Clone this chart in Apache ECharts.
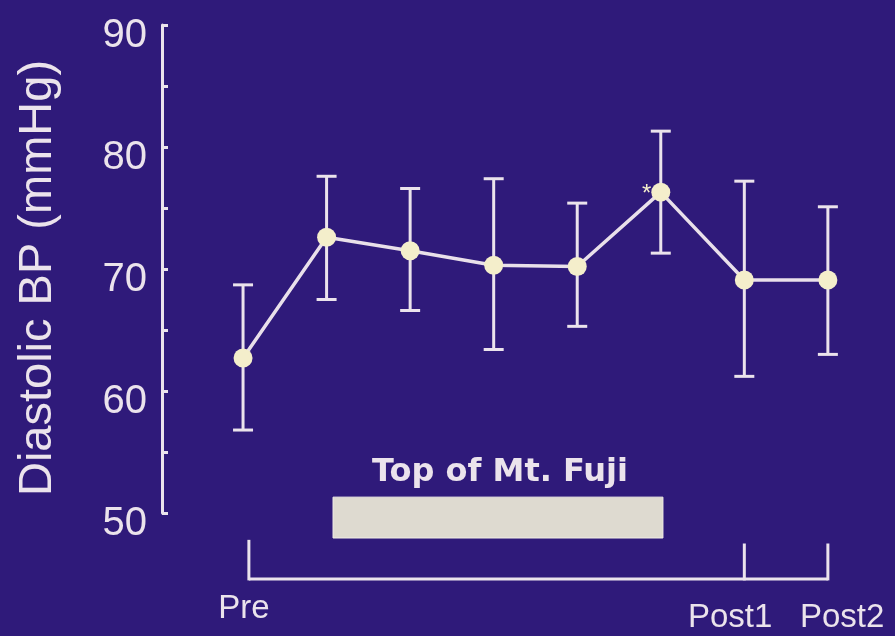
<!DOCTYPE html>
<html>
<head>
<meta charset="utf-8">
<script src="https://cdn.jsdelivr.net/npm/echarts@6/dist/echarts.min.js"></script>
<style>
html,body{margin:0;padding:0;background:#2f1a7a;}
#chart{width:895px;height:636px;}
</style>
</head>
<body>
<div id="chart"></div>
<script>
// ---- data ----
const timepoints = [0, 1, 2, 3, 4, 5, 6, 7];
const meanBP  = [62.7, 72.6, 71.5, 70.3, 70.2, 76.3, 69.1, 69.1];
const upperBP = [68.7, 77.6, 76.6, 77.4, 75.4, 81.3, 77.2, 75.1];
const lowerBP = [56.8, 67.5, 66.6, 63.4, 65.3, 71.3, 61.2, 63.0];
const yTickLabels = [50, 60, 70, 80, 90];
const phaseLabels = ['Pre', 'Post1', 'Post2'];
const phaseIndex = [0, 6, 7];
const summitStart = 1, summitEnd = 5;
const summitLabel = 'Top of Mt. Fuji';
const significant = [5];
const yTitle = 'Diastolic BP (mmHg)';

const FG = '#ebe3ec';
const CREAM = '#f4eecb';

const chart = echarts.init(document.getElementById('chart'));

chart.setOption({
  backgroundColor: '#2f1a7a',
  animation: false,
  grid: { left: 162, right: 17, top: 25, bottom: 123 },
  xAxis: {
    type: 'value', min: -0.97, max: 7.6,
    show: false
  },
  yAxis: {
    type: 'value', min: 50, max: 90, interval: 5,
    name: yTitle, nameLocation: 'middle', nameRotate: 90, nameGap: 100,
    nameTextStyle: { color: FG, fontSize: 47, fontFamily: 'Liberation Sans', padding: [0, 18, 0, 0] },
    axisLine: { show: true, onZero: false, lineStyle: { color: FG, width: 3 } },
    axisTick: { show: true, inside: true, length: 6, lineStyle: { color: FG, width: 3 } },
    axisLabel: {
      color: FG, fontSize: 40, fontFamily: 'Liberation Sans', margin: 15,
      verticalAlign: 'top', lineHeight: 22,
      formatter: v => yTickLabels.includes(v) ? String(v) : ''
    },
    splitLine: { show: false }
  },
  series: [
    {
      type: 'custom',
      name: 'annotations',
      silent: true,
      z: 1,
      data: [0],
      renderItem: (params, api) => {
        const children = [];
        // summit bar
        const r0 = api.coord([summitStart + 0.077, 51.3]);
        const r1 = api.coord([summitEnd + 0.026, 47.95]);
        children.push({ type: 'rect', shape: { x: r0[0], y: r0[1], width: r1[0] - r0[0], height: r1[1] - r0[1] },
          style: { fill: '#dedad0', stroke: '#f2eee6', lineWidth: 1 } });
        const tc = api.coord([(summitStart + summitEnd) / 2 + 0.075, 53.3]);
        children.push({ type: 'text', x: tc[0], y: tc[1], style: { text: summitLabel, fill: FG,
          font: 'bold 32px "DejaVu Sans"', align: 'center', verticalAlign: 'middle' } });
        // bracket
        const bx = phaseIndex.map((p, i) => i === 0 ? p + 0.07 : p);
        const h0 = api.coord([bx[0], 44.6]);
        const h1 = api.coord([bx[2], 44.6]);
        children.push({ type: 'line', shape: { x1: h0[0], y1: h0[1], x2: h1[0], y2: h1[1] }, style: { stroke: FG, lineWidth: 3 } });
        bx.forEach((x, i) => {
          const a = api.coord([x, i === 0 ? 47.8 : 47.5]);
          const b = api.coord([x, 44.6]);
          children.push({ type: 'line', shape: { x1: a[0], y1: a[1], x2: b[0], y2: b[1] + 1.5 }, style: { stroke: FG, lineWidth: 3 } });
        });
        const labelOffsets = [0.01, -0.17, 0.17];
        const labelY = [42.1, 41.4, 41.4];
        phaseLabels.forEach((txt, i) => {
          const p = api.coord([phaseIndex[i] + labelOffsets[i], labelY[i]]);
          children.push({ type: 'text', x: p[0], y: p[1], style: { text: txt, fill: FG,
            font: '33px "Liberation Sans"', align: 'center', verticalAlign: 'middle' } });
        });
        // significance marks
        significant.forEach(i => {
          const p = api.coord([timepoints[i], meanBP[i]]);
          children.push({ type: 'text', x: p[0] - 14, y: p[1] + 2, style: { text: '*', fill: CREAM,
            font: '24px "Liberation Sans"', align: 'center', verticalAlign: 'middle' } });
        });
        return { type: 'group', children };
      }
    },
    {
      type: 'custom',
      name: 'error',
      silent: true,
      z: 2,
      data: timepoints.map((t, i) => [t, lowerBP[i], upperBP[i]]),
      renderItem: (params, api) => {
        const x = api.value(0);
        const lo = api.coord([x, api.value(1)]);
        const hi = api.coord([x, api.value(2)]);
        const cw = 10;
        const st = { stroke: FG, lineWidth: 3 };
        return { type: 'group', children: [
          { type: 'line', shape: { x1: lo[0], y1: lo[1], x2: hi[0], y2: hi[1] }, style: st },
          { type: 'line', shape: { x1: lo[0] - cw, y1: lo[1], x2: lo[0] + cw, y2: lo[1] }, style: st },
          { type: 'line', shape: { x1: hi[0] - cw, y1: hi[1], x2: hi[0] + cw, y2: hi[1] }, style: st }
        ] };
      }
    },
    {
      type: 'line',
      name: 'Diastolic BP',
      z: 3,
      data: timepoints.map((t, i) => [t, meanBP[i]]),
      symbol: 'circle',
      symbolSize: 19,
      itemStyle: { color: CREAM },
      lineStyle: { color: '#e9e0ea', width: 3.5 }
    }
  ]
});
</script>
</body>
</html>
